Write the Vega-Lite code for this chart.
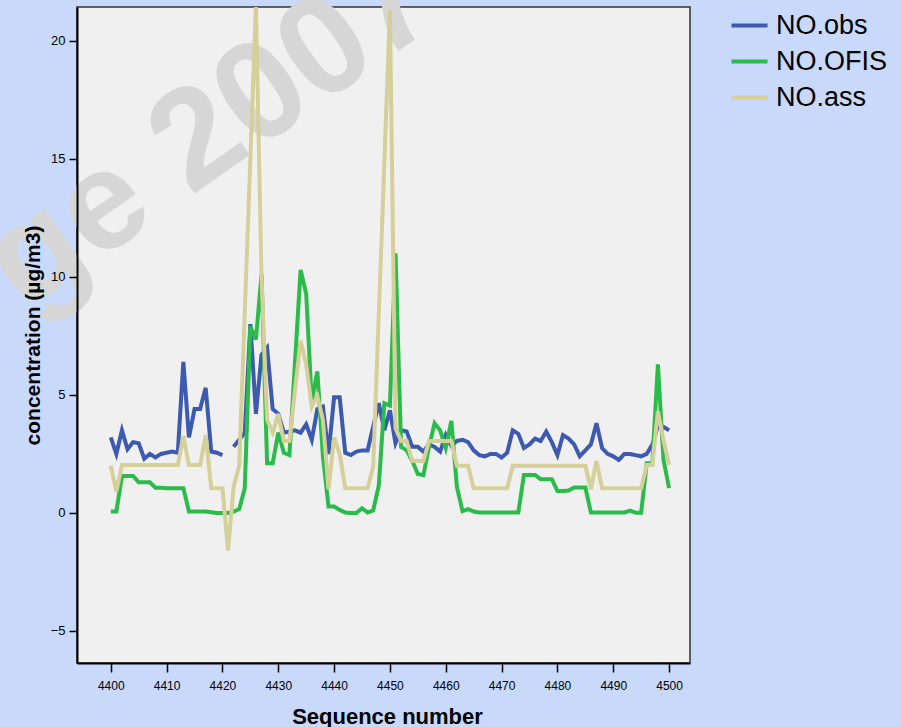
{
  "$schema": "https://vega.github.io/schema/vega-lite/v6.json",
  "width": 613,
  "height": 656,
  "autosize": {"type": "none"},
  "padding": {"left": 77, "top": 7, "right": 211, "bottom": 64},
  "background": "#c9d9fb",
  "config": {
    "font": "Liberation Sans",
    "view": {"fill": "#f0f0f0", "stroke": "#333333", "strokeWidth": 1.5},
    "axis": {"grid": false, "domainColor": "#000000", "domainWidth": 2, "tickColor": "#000000", "tickWidth": 1.5, "labelColor": "#000000", "titleColor": "#000000", "labelFont": "Liberation Sans", "titleFont": "Liberation Sans"}
  },
  "datasets": {
    "series": [
      {"seq":4400,"series":"NO.obs","value":3.2},{"seq":4401,"series":"NO.obs","value":2.5},{"seq":4402,"series":"NO.obs","value":3.5},{"seq":4403,"series":"NO.obs","value":2.7},{"seq":4404,"series":"NO.obs","value":3.0},{"seq":4405,"series":"NO.obs","value":2.95},{"seq":4406,"series":"NO.obs","value":2.3},{"seq":4407,"series":"NO.obs","value":2.5},{"seq":4408,"series":"NO.obs","value":2.35},{"seq":4409,"series":"NO.obs","value":2.5},
      {"seq":4410,"series":"NO.obs","value":2.55},{"seq":4411,"series":"NO.obs","value":2.6},{"seq":4412,"series":"NO.obs","value":2.55},{"seq":4413,"series":"NO.obs","value":6.4},{"seq":4414,"series":"NO.obs","value":3.2},{"seq":4415,"series":"NO.obs","value":4.4},{"seq":4416,"series":"NO.obs","value":4.4},{"seq":4417,"series":"NO.obs","value":5.3},{"seq":4418,"series":"NO.obs","value":2.6},{"seq":4419,"series":"NO.obs","value":2.55},
      {"seq":4420,"series":"NO.obs","value":2.45},{"seq":4421,"series":"NO.obs","value":null},{"seq":4422,"series":"NO.obs","value":2.8},{"seq":4423,"series":"NO.obs","value":3.1},{"seq":4424,"series":"NO.obs","value":3.4},{"seq":4425,"series":"NO.obs","value":8.0},{"seq":4426,"series":"NO.obs","value":4.2},{"seq":4427,"series":"NO.obs","value":6.7},{"seq":4428,"series":"NO.obs","value":7.0},{"seq":4429,"series":"NO.obs","value":4.4},
      {"seq":4430,"series":"NO.obs","value":4.2},{"seq":4431,"series":"NO.obs","value":3.4},{"seq":4432,"series":"NO.obs","value":3.45},{"seq":4433,"series":"NO.obs","value":3.5},{"seq":4434,"series":"NO.obs","value":3.4},{"seq":4435,"series":"NO.obs","value":3.75},{"seq":4436,"series":"NO.obs","value":3.1},{"seq":4437,"series":"NO.obs","value":4.4},{"seq":4438,"series":"NO.obs","value":4.5},{"seq":4439,"series":"NO.obs","value":2.5},
      {"seq":4440,"series":"NO.obs","value":4.9},{"seq":4441,"series":"NO.obs","value":4.9},{"seq":4442,"series":"NO.obs","value":2.55},{"seq":4443,"series":"NO.obs","value":2.45},{"seq":4444,"series":"NO.obs","value":2.6},{"seq":4445,"series":"NO.obs","value":2.65},{"seq":4446,"series":"NO.obs","value":2.65},{"seq":4447,"series":"NO.obs","value":3.65},{"seq":4448,"series":"NO.obs","value":4.65},{"seq":4449,"series":"NO.obs","value":3.5},
      {"seq":4450,"series":"NO.obs","value":4.35},{"seq":4451,"series":"NO.obs","value":2.95},{"seq":4452,"series":"NO.obs","value":3.5},{"seq":4453,"series":"NO.obs","value":3.45},{"seq":4454,"series":"NO.obs","value":2.8},{"seq":4455,"series":"NO.obs","value":2.8},{"seq":4456,"series":"NO.obs","value":2.6},{"seq":4457,"series":"NO.obs","value":2.9},{"seq":4458,"series":"NO.obs","value":2.8},{"seq":4459,"series":"NO.obs","value":2.6},
      {"seq":4460,"series":"NO.obs","value":3.3},{"seq":4461,"series":"NO.obs","value":2.85},{"seq":4462,"series":"NO.obs","value":3.05},{"seq":4463,"series":"NO.obs","value":3.1},{"seq":4464,"series":"NO.obs","value":3.0},{"seq":4465,"series":"NO.obs","value":2.65},{"seq":4466,"series":"NO.obs","value":2.45},{"seq":4467,"series":"NO.obs","value":2.4},{"seq":4468,"series":"NO.obs","value":2.5},{"seq":4469,"series":"NO.obs","value":2.5},
      {"seq":4470,"series":"NO.obs","value":2.35},{"seq":4471,"series":"NO.obs","value":2.55},{"seq":4472,"series":"NO.obs","value":3.5},{"seq":4473,"series":"NO.obs","value":3.35},{"seq":4474,"series":"NO.obs","value":2.75},{"seq":4475,"series":"NO.obs","value":2.9},{"seq":4476,"series":"NO.obs","value":3.15},{"seq":4477,"series":"NO.obs","value":3.05},{"seq":4478,"series":"NO.obs","value":3.45},{"seq":4479,"series":"NO.obs","value":3.0},
      {"seq":4480,"series":"NO.obs","value":2.45},{"seq":4481,"series":"NO.obs","value":3.3},{"seq":4482,"series":"NO.obs","value":3.15},{"seq":4483,"series":"NO.obs","value":2.9},{"seq":4484,"series":"NO.obs","value":2.4},{"seq":4485,"series":"NO.obs","value":2.65},{"seq":4486,"series":"NO.obs","value":2.9},{"seq":4487,"series":"NO.obs","value":3.8},{"seq":4488,"series":"NO.obs","value":2.75},{"seq":4489,"series":"NO.obs","value":2.5},
      {"seq":4490,"series":"NO.obs","value":2.4},{"seq":4491,"series":"NO.obs","value":2.25},{"seq":4492,"series":"NO.obs","value":2.5},{"seq":4493,"series":"NO.obs","value":2.5},{"seq":4494,"series":"NO.obs","value":2.45},{"seq":4495,"series":"NO.obs","value":2.4},{"seq":4496,"series":"NO.obs","value":2.5},{"seq":4497,"series":"NO.obs","value":2.9},{"seq":4498,"series":"NO.obs","value":3.7},{"seq":4499,"series":"NO.obs","value":3.65},
      {"seq":4500,"series":"NO.obs","value":3.5},

      {"seq":4400,"series":"NO.OFIS","value":0.06},{"seq":4401,"series":"NO.OFIS","value":0.06},{"seq":4402,"series":"NO.OFIS","value":1.57},{"seq":4403,"series":"NO.OFIS","value":1.57},{"seq":4404,"series":"NO.OFIS","value":1.57},{"seq":4405,"series":"NO.OFIS","value":1.3},{"seq":4406,"series":"NO.OFIS","value":1.3},{"seq":4407,"series":"NO.OFIS","value":1.3},{"seq":4408,"series":"NO.OFIS","value":1.07},{"seq":4409,"series":"NO.OFIS","value":1.07},
      {"seq":4410,"series":"NO.OFIS","value":1.05},{"seq":4411,"series":"NO.OFIS","value":1.05},{"seq":4412,"series":"NO.OFIS","value":1.05},{"seq":4413,"series":"NO.OFIS","value":1.05},{"seq":4414,"series":"NO.OFIS","value":0.06},{"seq":4415,"series":"NO.OFIS","value":0.06},{"seq":4416,"series":"NO.OFIS","value":0.06},{"seq":4417,"series":"NO.OFIS","value":0.06},{"seq":4418,"series":"NO.OFIS","value":0.03},{"seq":4419,"series":"NO.OFIS","value":0.0},
      {"seq":4420,"series":"NO.OFIS","value":0.0},{"seq":4421,"series":"NO.OFIS","value":0.0},{"seq":4422,"series":"NO.OFIS","value":0.06},{"seq":4423,"series":"NO.OFIS","value":0.16},{"seq":4424,"series":"NO.OFIS","value":1.05},{"seq":4425,"series":"NO.OFIS","value":7.9},{"seq":4426,"series":"NO.OFIS","value":7.35},{"seq":4427,"series":"NO.OFIS","value":10.1},{"seq":4428,"series":"NO.OFIS","value":2.1},{"seq":4429,"series":"NO.OFIS","value":2.1},
      {"seq":4430,"series":"NO.OFIS","value":3.4},{"seq":4431,"series":"NO.OFIS","value":2.55},{"seq":4432,"series":"NO.OFIS","value":2.45},{"seq":4433,"series":"NO.OFIS","value":6.4},{"seq":4434,"series":"NO.OFIS","value":10.3},{"seq":4435,"series":"NO.OFIS","value":9.3},{"seq":4436,"series":"NO.OFIS","value":4.7},{"seq":4437,"series":"NO.OFIS","value":6.0},{"seq":4438,"series":"NO.OFIS","value":2.4},{"seq":4439,"series":"NO.OFIS","value":0.27},
      {"seq":4440,"series":"NO.OFIS","value":0.27},{"seq":4441,"series":"NO.OFIS","value":0.13},{"seq":4442,"series":"NO.OFIS","value":0.02},{"seq":4443,"series":"NO.OFIS","value":0.0},{"seq":4444,"series":"NO.OFIS","value":0.0},{"seq":4445,"series":"NO.OFIS","value":0.2},{"seq":4446,"series":"NO.OFIS","value":0.02},{"seq":4447,"series":"NO.OFIS","value":0.1},{"seq":4448,"series":"NO.OFIS","value":1.15},{"seq":4449,"series":"NO.OFIS","value":4.65},
      {"seq":4450,"series":"NO.OFIS","value":4.55},{"seq":4451,"series":"NO.OFIS","value":11.0},{"seq":4452,"series":"NO.OFIS","value":2.8},{"seq":4453,"series":"NO.OFIS","value":2.65},{"seq":4454,"series":"NO.OFIS","value":2.2},{"seq":4455,"series":"NO.OFIS","value":1.65},{"seq":4456,"series":"NO.OFIS","value":1.6},{"seq":4457,"series":"NO.OFIS","value":2.8},{"seq":4458,"series":"NO.OFIS","value":3.8},{"seq":4459,"series":"NO.OFIS","value":3.5},
      {"seq":4460,"series":"NO.OFIS","value":2.75},{"seq":4461,"series":"NO.OFIS","value":3.9},{"seq":4462,"series":"NO.OFIS","value":1.1},{"seq":4463,"series":"NO.OFIS","value":0.08},{"seq":4464,"series":"NO.OFIS","value":0.16},{"seq":4465,"series":"NO.OFIS","value":0.06},{"seq":4466,"series":"NO.OFIS","value":0.02},{"seq":4467,"series":"NO.OFIS","value":0.02},{"seq":4468,"series":"NO.OFIS","value":0.02},{"seq":4469,"series":"NO.OFIS","value":0.02},
      {"seq":4470,"series":"NO.OFIS","value":0.02},{"seq":4471,"series":"NO.OFIS","value":0.02},{"seq":4472,"series":"NO.OFIS","value":0.02},{"seq":4473,"series":"NO.OFIS","value":0.02},{"seq":4474,"series":"NO.OFIS","value":1.61},{"seq":4475,"series":"NO.OFIS","value":1.61},{"seq":4476,"series":"NO.OFIS","value":1.61},{"seq":4477,"series":"NO.OFIS","value":1.43},{"seq":4478,"series":"NO.OFIS","value":1.43},{"seq":4479,"series":"NO.OFIS","value":1.43},
      {"seq":4480,"series":"NO.OFIS","value":0.93},{"seq":4481,"series":"NO.OFIS","value":0.93},{"seq":4482,"series":"NO.OFIS","value":0.95},{"seq":4483,"series":"NO.OFIS","value":1.08},{"seq":4484,"series":"NO.OFIS","value":1.08},{"seq":4485,"series":"NO.OFIS","value":1.08},{"seq":4486,"series":"NO.OFIS","value":0.02},{"seq":4487,"series":"NO.OFIS","value":0.02},{"seq":4488,"series":"NO.OFIS","value":0.02},{"seq":4489,"series":"NO.OFIS","value":0.02},
      {"seq":4490,"series":"NO.OFIS","value":0.02},{"seq":4491,"series":"NO.OFIS","value":0.02},{"seq":4492,"series":"NO.OFIS","value":0.02},{"seq":4493,"series":"NO.OFIS","value":0.1},{"seq":4494,"series":"NO.OFIS","value":0.01},{"seq":4495,"series":"NO.OFIS","value":0.01},{"seq":4496,"series":"NO.OFIS","value":2.1},{"seq":4497,"series":"NO.OFIS","value":2.1},{"seq":4498,"series":"NO.OFIS","value":6.3},{"seq":4499,"series":"NO.OFIS","value":2.25},
      {"seq":4500,"series":"NO.OFIS","value":1.05},

      {"seq":4400,"series":"NO.ass","value":2.0},{"seq":4401,"series":"NO.ass","value":0.9},{"seq":4402,"series":"NO.ass","value":2.03},{"seq":4403,"series":"NO.ass","value":2.03},{"seq":4404,"series":"NO.ass","value":2.03},{"seq":4405,"series":"NO.ass","value":2.03},{"seq":4406,"series":"NO.ass","value":2.03},{"seq":4407,"series":"NO.ass","value":2.03},{"seq":4408,"series":"NO.ass","value":2.03},{"seq":4409,"series":"NO.ass","value":2.03},
      {"seq":4410,"series":"NO.ass","value":2.03},{"seq":4411,"series":"NO.ass","value":2.03},{"seq":4412,"series":"NO.ass","value":2.03},{"seq":4413,"series":"NO.ass","value":3.25},{"seq":4414,"series":"NO.ass","value":2.03},{"seq":4415,"series":"NO.ass","value":2.03},{"seq":4416,"series":"NO.ass","value":2.03},{"seq":4417,"series":"NO.ass","value":3.3},{"seq":4418,"series":"NO.ass","value":1.05},{"seq":4419,"series":"NO.ass","value":1.05},
      {"seq":4420,"series":"NO.ass","value":1.05},{"seq":4421,"series":"NO.ass","value":-1.6},{"seq":4422,"series":"NO.ass","value":1.1},{"seq":4423,"series":"NO.ass","value":2.0},{"seq":4424,"series":"NO.ass","value":8.5},{"seq":4425,"series":"NO.ass","value":15.0},{"seq":4426,"series":"NO.ass","value":21.5},{"seq":4427,"series":"NO.ass","value":10.0},{"seq":4428,"series":"NO.ass","value":3.95},{"seq":4429,"series":"NO.ass","value":3.4},
      {"seq":4430,"series":"NO.ass","value":4.2},{"seq":4431,"series":"NO.ass","value":3.05},{"seq":4432,"series":"NO.ass","value":3.05},{"seq":4433,"series":"NO.ass","value":5.2},{"seq":4434,"series":"NO.ass","value":7.3},{"seq":4435,"series":"NO.ass","value":6.3},{"seq":4436,"series":"NO.ass","value":4.5},{"seq":4437,"series":"NO.ass","value":4.95},{"seq":4438,"series":"NO.ass","value":3.95},{"seq":4439,"series":"NO.ass","value":1.0},
      {"seq":4440,"series":"NO.ass","value":3.2},{"seq":4441,"series":"NO.ass","value":2.5},{"seq":4442,"series":"NO.ass","value":1.05},{"seq":4443,"series":"NO.ass","value":1.05},{"seq":4444,"series":"NO.ass","value":1.05},{"seq":4445,"series":"NO.ass","value":1.05},{"seq":4446,"series":"NO.ass","value":1.05},{"seq":4447,"series":"NO.ass","value":1.96},{"seq":4448,"series":"NO.ass","value":8.4},{"seq":4449,"series":"NO.ass","value":14.8},
      {"seq":4450,"series":"NO.ass","value":21.3},{"seq":4451,"series":"NO.ass","value":3.6},{"seq":4452,"series":"NO.ass","value":3.05},{"seq":4453,"series":"NO.ass","value":3.05},{"seq":4454,"series":"NO.ass","value":2.2},{"seq":4455,"series":"NO.ass","value":2.2},{"seq":4456,"series":"NO.ass","value":2.2},{"seq":4457,"series":"NO.ass","value":3.05},{"seq":4458,"series":"NO.ass","value":3.05},{"seq":4459,"series":"NO.ass","value":3.05},
      {"seq":4460,"series":"NO.ass","value":3.05},{"seq":4461,"series":"NO.ass","value":3.05},{"seq":4462,"series":"NO.ass","value":2.0},{"seq":4463,"series":"NO.ass","value":2.0},{"seq":4464,"series":"NO.ass","value":2.0},{"seq":4465,"series":"NO.ass","value":1.05},{"seq":4466,"series":"NO.ass","value":1.05},{"seq":4467,"series":"NO.ass","value":1.05},{"seq":4468,"series":"NO.ass","value":1.05},{"seq":4469,"series":"NO.ass","value":1.05},
      {"seq":4470,"series":"NO.ass","value":1.05},{"seq":4471,"series":"NO.ass","value":1.05},{"seq":4472,"series":"NO.ass","value":2.0},{"seq":4473,"series":"NO.ass","value":2.0},{"seq":4474,"series":"NO.ass","value":2.0},{"seq":4475,"series":"NO.ass","value":2.0},{"seq":4476,"series":"NO.ass","value":2.0},{"seq":4477,"series":"NO.ass","value":2.0},{"seq":4478,"series":"NO.ass","value":2.0},{"seq":4479,"series":"NO.ass","value":2.0},
      {"seq":4480,"series":"NO.ass","value":2.0},{"seq":4481,"series":"NO.ass","value":2.0},{"seq":4482,"series":"NO.ass","value":2.0},{"seq":4483,"series":"NO.ass","value":2.0},{"seq":4484,"series":"NO.ass","value":2.0},{"seq":4485,"series":"NO.ass","value":2.0},{"seq":4486,"series":"NO.ass","value":1.0},{"seq":4487,"series":"NO.ass","value":2.2},{"seq":4488,"series":"NO.ass","value":1.05},{"seq":4489,"series":"NO.ass","value":1.05},
      {"seq":4490,"series":"NO.ass","value":1.05},{"seq":4491,"series":"NO.ass","value":1.05},{"seq":4492,"series":"NO.ass","value":1.05},{"seq":4493,"series":"NO.ass","value":1.05},{"seq":4494,"series":"NO.ass","value":1.05},{"seq":4495,"series":"NO.ass","value":1.05},{"seq":4496,"series":"NO.ass","value":2.03},{"seq":4497,"series":"NO.ass","value":2.03},{"seq":4498,"series":"NO.ass","value":4.3},{"seq":4499,"series":"NO.ass","value":3.1},
      {"seq":4500,"series":"NO.ass","value":2.03}
    ],
    "watermark": [{"label": "ge 2007"}]
  },
  "layer": [
    {
      "data": {"name": "watermark"},
      "mark": {"type": "text", "angle": -35, "fontSize": 140, "fontWeight": "bold", "font": "Liberation Sans", "color": "#d6d6d6", "align": "center", "baseline": "middle"},
      "encoding": {
        "x": {"datum": 4418, "type": "quantitative"},
        "y": {"datum": 16.2, "type": "quantitative"},
        "text": {"field": "label"}
      }
    },
    {
      "data": {"name": "series"},
      "mark": {"type": "line", "strokeWidth": 4, "clip": true, "invalid": "break-paths-filter-domains"},
      "encoding": {
        "x": {
          "field": "seq", "type": "quantitative",
          "scale": {"domain": [4393.95, 4503.75], "nice": false, "zero": false},
          "axis": {"values": [4400,4410,4420,4430,4440,4450,4460,4470,4480,4490,4500], "format": "d", "zindex": 2, "labelFontSize": 12, "tickSize": 9, "labelPadding": 8, "title": "Sequence number", "titleFontSize": 22, "titleFontWeight": "bold", "titleX": 310, "titleY": 53, "titleBaseline": "middle"}
        },
        "y": {
          "field": "value", "type": "quantitative",
          "scale": {"domain": [-6.36, 21.44], "nice": false, "zero": false},
          "axis": {"values": [-5,0,5,10,15,20], "zindex": 2, "labelFontSize": 13, "tickSize": 8, "labelPadding": 4, "title": "concentration (µg/m3)", "titleFontSize": 21, "titleFontWeight": "bold", "titleX": -44, "titleY": 328, "titleBaseline": "middle", "titleAngle": -90}
        },
        "color": {
          "field": "series", "type": "nominal",
          "scale": {"domain": ["NO.obs", "NO.OFIS", "NO.ass"], "range": ["#3c5aaf", "#2bbb4a", "#d5cf99"]},
          "legend": {"title": null, "orient": "none", "legendX": 652, "legendY": -2, "symbolType": "stroke", "symbolSize": 1300, "symbolStrokeWidth": 4, "labelFontSize": 27, "labelFont": "Liberation Sans", "labelColor": "#000000", "labelOffset": 6, "rowPadding": 2, "labelLimit": 300}
        }
      }
    }
  ]
}
